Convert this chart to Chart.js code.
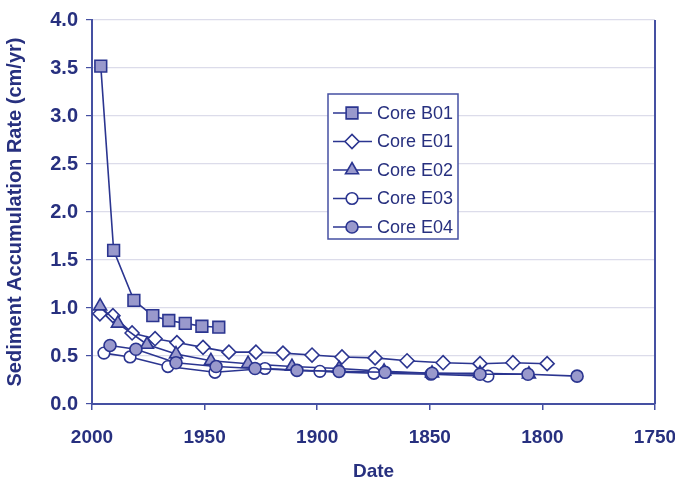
<!DOCTYPE html>
<html>
<head>
<meta charset="utf-8">
<script src="https://cdn.jsdelivr.net/npm/chart.js@4.4.0/dist/chart.umd.min.js"></script>
<style>
  html, body { margin: 0; padding: 0; background: #fff; }
  #wrap { width: 675px; height: 483px; }
</style>
</head>
<body>
<div id="wrap"><canvas id="rateChart" width="675" height="483"></canvas></div>
<script>
// ======================= DATA =======================

const seriesNames = ['Core B01', 'Core E01', 'Core E02', 'Core E03', 'Core E04'];

const b01Dates = [1996.1, 1990.4, 1981.4, 1973.0, 1965.9, 1958.6, 1951.2, 1943.7];
const b01Rates = [3.52, 1.60, 1.08, 0.92, 0.87, 0.84, 0.81, 0.80];

const e01Dates = [1996.5, 1990.7, 1982.2, 1972.0, 1962.3, 1950.7, 1939.2, 1927.2, 1915.2,
                  1902.3, 1889.0, 1874.3, 1860.1, 1844.1, 1827.7, 1813.1, 1797.9];
const e01Rates = [0.94, 0.92, 0.74, 0.68, 0.64, 0.59, 0.54, 0.54, 0.53,
                  0.51, 0.49, 0.48, 0.45, 0.43, 0.42, 0.43, 0.42];

const e02Dates = [1996.4, 1988.5, 1975.6, 1962.7, 1947.2, 1930.7, 1911.2, 1890.3, 1870.3, 1849.0, 1827.7, 1806.0];
const e02Rates = [1.02, 0.84, 0.62, 0.52, 0.45, 0.42, 0.39, 0.37, 0.34, 0.32, 0.32, 0.31];

const e03Dates = [1994.7, 1983.1, 1966.3, 1945.4, 1923.2, 1898.8, 1874.8, 1849.5, 1824.2];
const e03Rates = [0.53, 0.49, 0.39, 0.33, 0.37, 0.34, 0.32, 0.31, 0.29];

const e04Dates = [1992.0, 1980.5, 1962.7, 1944.9, 1927.6, 1909.0, 1890.3, 1869.9, 1849.0, 1827.7, 1806.4, 1784.6];
const e04Rates = [0.61, 0.57, 0.43, 0.39, 0.37, 0.35, 0.34, 0.33, 0.32, 0.31, 0.31, 0.29];

const xTicks = [2000, 1950, 1900, 1850, 1800, 1750];
const yTicks = [0, 0.5, 1, 1.5, 2, 2.5, 3, 3.5, 4];


// ======================= STYLE =======================

const NAVY = '#27307f';
const LINE = '#2b3590';
const AXIS = '#4550a2';
const FILL = '#9999cc';
const GRID = '#dcdcea';
const FONT = "'Liberation Sans', Arial, Helvetica, sans-serif";

function toPoints(xs, ys) {
    return xs.map((x, i) => ({ x: x, y: ys[i] }));
}

function makeSet(name, xs, ys, style, radius, fill, order) {
    return {
        label: name,
        data: toPoints(xs, ys),
        borderColor: LINE,
        borderWidth: 1.6,
        pointStyle: style,
        pointRadius: radius,
        pointBackgroundColor: fill,
        pointBorderColor: LINE,
        pointBorderWidth: 1.6,
        tension: 0,
        order: order
    };
}

const datasets = [
    makeSet(seriesNames[0], b01Dates, b01Rates, 'rect', 8.3, FILL, 5),
    makeSet(seriesNames[1], e01Dates, e01Rates, 'rectRot', 7, '#ffffff', 4),
    makeSet(seriesNames[2], e02Dates, e02Rates, 'triangle', 7.5, FILL, 3),
    makeSet(seriesNames[3], e03Dates, e03Rates, 'circle', 5.8, '#ffffff', 2),
    makeSet(seriesNames[4], e04Dates, e04Rates, 'circle', 6, FILL, 1)
];


// ======================= PLUGINS =======================

// legend box drawn inside the plot, Excel style
const boxLegend = {
    id: 'boxLegend',
    afterDraw(chart) {
        const ctx = chart.ctx;
        const bx = 328, by = 94, bw = 130, bh = 145;
        ctx.save();
        ctx.fillStyle = '#ffffff';
        ctx.fillRect(bx, by, bw, bh);
        ctx.strokeStyle = AXIS;
        ctx.lineWidth = 1.5;
        ctx.strokeRect(bx, by, bw, bh);

        chart.data.datasets.forEach((ds, i) => {
            const y = by + 19 + i * 28.5;
            ctx.strokeStyle = LINE;
            ctx.lineWidth = 1.6;
            ctx.beginPath();
            ctx.moveTo(bx + 5, y);
            ctx.lineTo(bx + 44, y);
            ctx.stroke();

            ctx.fillStyle = ds.pointBackgroundColor;
            ctx.strokeStyle = ds.pointBorderColor;
            ctx.lineWidth = ds.pointBorderWidth;
            Chart.helpers.drawPoint(ctx, {
                pointStyle: ds.pointStyle,
                radius: ds.pointRadius,
                rotation: 0,
                borderWidth: ds.pointBorderWidth
            }, bx + 24, y);

            ctx.fillStyle = NAVY;
            ctx.font = '18px ' + FONT;
            ctx.textAlign = 'left';
            ctx.textBaseline = 'middle';
            ctx.fillText(ds.label, bx + 49, y + 1);
        });
        ctx.restore();
    }
};

// right edge of the plot area
const rightEdge = {
    id: 'rightEdge',
    afterDraw(chart) {
        const a = chart.chartArea;
        const ctx = chart.ctx;
        ctx.save();
        ctx.strokeStyle = AXIS;
        ctx.lineWidth = 2;
        ctx.beginPath();
        ctx.moveTo(a.right, a.top);
        ctx.lineTo(a.right, a.bottom);
        ctx.stroke();
        ctx.restore();
    }
};


// ======================= CHART =======================

const ctx = document.getElementById('rateChart').getContext('2d');

new Chart(ctx, {
    type: 'line',
    data: { datasets: datasets },
    options: {
        responsive: false,
        animation: false,
        layout: { padding: { top: 17, right: 20, left: 0, bottom: 0 } },
        plugins: {
            legend: { display: false },
            tooltip: { enabled: false }
        },
        scales: {
            x: {
                type: 'linear',
                reverse: true,
                min: 1750,
                max: 2000,
                afterBuildTicks: s => { s.ticks = xTicks.map(v => ({ value: v })); },
                afterFit: s => {
                    s.height = 79;
                    s.paddingLeft = 0;
                    s.paddingRight = 0;
                },
                ticks: {
                    color: NAVY,
                    padding: 16,
                    maxRotation: 0,
                    callback: v => String(v),
                    font: { family: FONT, size: 19, weight: 'bold' }
                },
                grid: {
                    drawOnChartArea: false,
                    drawTicks: true,
                    tickLength: 6,
                    tickColor: AXIS,
                    lineWidth: 1.5
                },
                border: { display: true, color: AXIS, width: 2 },
                title: {
                    display: true,
                    text: 'Date',
                    color: NAVY,
                    padding: { top: 0, bottom: 0 },
                    font: { family: FONT, size: 19, weight: 'bold' }
                }
            },
            y: {
                min: 0,
                max: 4,
                afterBuildTicks: s => { s.ticks = yTicks.map(v => ({ value: v })); },
                afterFit: s => { s.width = 92; },
                ticks: {
                    color: NAVY,
                    padding: 8,
                    callback: v => Number(v).toFixed(1),
                    font: { family: FONT, size: 20, weight: 'bold' }
                },
                grid: {
                    color: GRID,
                    lineWidth: 1.2,
                    tickLength: 6,
                    tickColor: AXIS
                },
                border: { display: true, color: AXIS, width: 2 },
                title: {
                    display: true,
                    text: 'Sediment Accumulation Rate (cm/yr)',
                    color: NAVY,
                    padding: { top: 3, bottom: 0 },
                    font: { family: FONT, size: 20, weight: 'bold' }
                }
            }
        }
    },
    plugins: [boxLegend, rightEdge]
});
</script>
</body>
</html>
